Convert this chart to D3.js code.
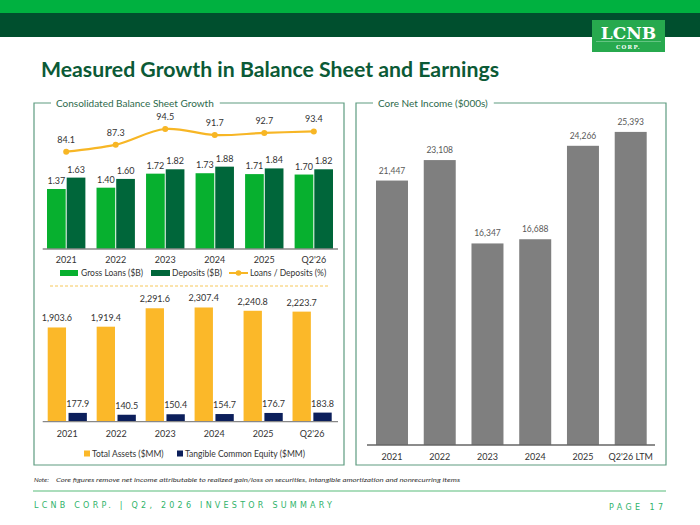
<!DOCTYPE html>
<html><head><meta charset="utf-8">
<script src="https://cdn.jsdelivr.net/npm/d3@7"></script>
<style>
html,body{margin:0;padding:0;background:#fff;}
svg{display:block;font-family:Lato,"Open Sans",sans-serif;}
</style></head>
<body>
<script>
// ---------- data ----------
const years = ["2021","2022","2023","2024","2025","Q2'26"];
const grossLoans = [1.37,1.40,1.72,1.73,1.71,1.70];
const deposits = [1.63,1.60,1.82,1.88,1.84,1.82];
const loanDepRatio = [84.1,87.3,94.5,91.7,92.7,93.4];
const totalAssets = [1903.6,1919.4,2291.6,2307.4,2240.8,2223.7];
const tce = [177.9,140.5,150.4,154.7,176.7,183.8];
const incomeYears = ["2021","2022","2023","2024","2025","Q2'26 LTM"];
const coreNetIncome = [21447,23108,16347,16688,24266,25393];

const W=700,H=525;
const svg=d3.select("body").append("svg").attr("width",W).attr("height",H);

// header bands
svg.append("rect").attr("x",0).attr("y",0).attr("width",W).attr("height",13).attr("fill","#00b140");
svg.append("rect").attr("x",0).attr("y",13).attr("width",W).attr("height",24).attr("fill","#004f2e");
// logo
svg.append("rect").attr("x",592).attr("y",20).attr("width",73).attr("height",32).attr("fill","#27a94e");
svg.append("text").attr("x",628.5).attr("y",39).attr("text-anchor","middle")
  .attr("font-family","'DejaVu Serif','Liberation Serif',serif").attr("font-weight","bold")
  .attr("font-size",17).attr("fill","#fff").text("LCNB");
svg.append("line").attr("x1",596).attr("x2",661).attr("y1",41.5).attr("y2",41.5).attr("stroke","#8fd6a6").attr("stroke-width",0.6);
svg.append("text").attr("x",628.5).attr("y",49).attr("text-anchor","middle")
  .attr("font-family","'DejaVu Serif','Liberation Serif',serif").attr("font-weight","bold")
  .attr("font-size",5.5).attr("letter-spacing",1.2).attr("fill","#fff").text("CORP.");

// title
svg.append("text").attr("x",41).attr("y",77).attr("font-weight","bold").attr("font-size",21)
  .attr("fill","#0b5a36").attr("textLength",458).attr("lengthAdjust","spacingAndGlyphs")
  .text("Measured Growth in Balance Sheet and Earnings");

// panels
function panel(x0,x1,y0,y1,label){
  const t=svg.append("text").attr("x",x0+22).attr("y",y0+3.5).attr("font-size",10)
    .attr("fill","#2d6a4c").text(label);
  const w=t.node().getComputedTextLength();
  const gs=x0+17, ge=x0+22+w+6;
  svg.append("path").attr("fill","none").attr("stroke","#5e9c80").attr("stroke-width",1.2)
    .attr("d",`M${gs},${y0}H${x0}V${y1}H${x1}V${y0}H${ge}`);
}
panel(34,344,103,465,"Consolidated Balance Sheet Growth");
panel(356,666,103,465,"Core Net Income ($000s)");

const labelFill="#333";
// ---------- top-left: loans & deposits ----------
const xTop=d3.scaleBand().domain(years).range([47,333]).paddingInner(0.225).paddingOuter(0);
const xTopIn=d3.scaleBand().domain(["loans","deps"]).range([0,xTop.bandwidth()]).paddingInner(0.05);
const yTop=d3.scaleLinear().domain([0,2]).range([249,161.4]);
const yLine=d3.scaleLinear().domain([80,100]).range([160.6,117.0]);

const gTop=svg.append("g");
const topSeries=[{k:"loans",v:grossLoans,c:"#07b02f"},{k:"deps",v:deposits,c:"#00663a"}];
topSeries.forEach(s=>{
  gTop.selectAll(null).data(years).join("rect")
    .attr("x",d=>xTop(d)+xTopIn(s.k)).attr("width",xTopIn.bandwidth())
    .attr("y",(d,i)=>yTop(s.v[i])).attr("height",(d,i)=>yTop(0)-yTop(s.v[i])).attr("fill",s.c);
  gTop.selectAll(null).data(years).join("text")
    .attr("x",d=>xTop(d)+xTopIn(s.k)+xTopIn.bandwidth()/2).attr("y",(d,i)=>yTop(s.v[i])-5)
    .attr("text-anchor","middle").attr("font-size",9).attr("fill",labelFill)
    .text((d,i)=>s.v[i].toFixed(2));
});
const axTop=gTop.append("g").attr("transform","translate(0,249)")
  .call(d3.axisBottom(xTop).tickSize(0).tickPadding(8));
axTop.select(".domain").attr("d","M42.7,0H338").attr("stroke","#888").attr("stroke-width",1.3);
axTop.selectAll("text").attr("font-size",9).attr("fill",labelFill).attr("font-family","Lato");

const lineGen=d3.line().x((d,i)=>xTop(years[i])+xTop.bandwidth()/2).y(d=>yLine(d)).curve(d3.curveCatmullRom.alpha(0.5));
gTop.append("path").datum(loanDepRatio).attr("d",lineGen).attr("fill","none").attr("stroke","#f7b625").attr("stroke-width",2.2);
gTop.selectAll(null).data(loanDepRatio).join("circle")
  .attr("cx",(d,i)=>xTop(years[i])+xTop.bandwidth()/2).attr("cy",d=>yLine(d)).attr("r",3).attr("fill","#f7b625");
gTop.selectAll(null).data(loanDepRatio).join("text")
  .attr("x",(d,i)=>xTop(years[i])+xTop.bandwidth()/2).attr("y",d=>yLine(d)-9)
  .attr("text-anchor","middle").attr("font-size",9).attr("fill",labelFill).text(d=>d.toFixed(1));

// top legend
const lgTop=svg.append("g").attr("font-size",8.5).attr("fill",labelFill);
lgTop.append("rect").attr("x",60).attr("y",270).attr("width",18).attr("height",6).attr("fill","#07b02f");
lgTop.append("text").attr("x",81).attr("y",276.3).text("Gross Loans ($B)");
lgTop.append("rect").attr("x",151).attr("y",270).attr("width",19).attr("height",6).attr("fill","#00663a");
lgTop.append("text").attr("x",172).attr("y",276.3).text("Deposits ($B)");
lgTop.append("line").attr("x1",229).attr("x2",248).attr("y1",273).attr("y2",273).attr("stroke","#f7b625").attr("stroke-width",2);
lgTop.append("circle").attr("cx",238.5).attr("cy",273).attr("r",2.8).attr("fill","#f7b625");
lgTop.append("text").attr("x",250).attr("y",276.3).text("Loans / Deposits (%)");

// dashed separator
svg.append("line").attr("x1",50).attr("x2",328).attr("y1",286).attr("y2",286)
  .attr("stroke","#f7c85a").attr("stroke-width",1).attr("stroke-dasharray","3,2");

// ---------- bottom-left: assets & TCE ----------
const xBot=d3.scaleBand().domain(years).range([47.7,331.7]).paddingInner(0.2).paddingOuter(0);
const xBotIn=d3.scaleBand().domain(["ta","tce"]).range([0,xBot.bandwidth()]).paddingInner(0.12);
const yBot=d3.scaleLinear().domain([0,2000]).range([421.7,322.7]);
const gBot=svg.append("g");
const botSeries=[{k:"ta",v:totalAssets,c:"#fbb829"},{k:"tce",v:tce,c:"#0c1f5b"}];
const fmt=d3.format(",.1f");
botSeries.forEach(s=>{
  gBot.selectAll(null).data(years).join("rect")
    .attr("x",d=>xBot(d)+xBotIn(s.k)).attr("width",xBotIn.bandwidth())
    .attr("y",(d,i)=>yBot(s.v[i])).attr("height",(d,i)=>yBot(0)-yBot(s.v[i])).attr("fill",s.c);
  gBot.selectAll(null).data(years).join("text")
    .attr("x",d=>xBot(d)+xBotIn(s.k)+xBotIn.bandwidth()/2).attr("y",(d,i)=>yBot(s.v[i])-6)
    .attr("text-anchor","middle").attr("font-size",9).attr("fill",labelFill)
    .text((d,i)=>fmt(s.v[i]));
});
const axBot=gBot.append("g").attr("transform","translate(0,421.7)")
  .call(d3.axisBottom(xBot).tickSize(0).tickPadding(9));
axBot.select(".domain").attr("d","M42.7,0H338").attr("stroke","#888").attr("stroke-width",1.3);
axBot.selectAll("text").attr("font-size",9).attr("fill",labelFill).attr("font-family","Lato");

const lgBot=svg.append("g").attr("font-size",8.5).attr("fill",labelFill);
lgBot.append("rect").attr("x",84).attr("y",450.5).attr("width",6).attr("height",6).attr("fill","#fbb829");
lgBot.append("text").attr("x",92).attr("y",457).text("Total Assets ($MM)");
lgBot.append("rect").attr("x",177).attr("y",450.5).attr("width",6).attr("height",6).attr("fill","#0c1f5b");
lgBot.append("text").attr("x",185).attr("y",457).text("Tangible Common Equity ($MM)");

// ---------- right: core net income ----------
const xR=d3.scaleBand().domain(incomeYears).range([376,646.7]).paddingInner(0.33).paddingOuter(0);
const yR=d3.scaleLinear().domain([0,25000]).range([445,136.75]);
const gR=svg.append("g");
gR.selectAll(null).data(coreNetIncome).join("rect")
  .attr("x",(d,i)=>xR(incomeYears[i])).attr("width",xR.bandwidth())
  .attr("y",d=>yR(d)).attr("height",d=>yR(0)-yR(d)).attr("fill","#7f7f7f");
gR.selectAll(null).data(coreNetIncome).join("text")
  .attr("x",(d,i)=>xR(incomeYears[i])+xR.bandwidth()/2).attr("y",d=>yR(d)-7)
  .attr("text-anchor","middle").attr("font-size",8.5).attr("fill","#595959").text(d=>d3.format(",")(d));
const axR=gR.append("g").attr("transform","translate(0,445)")
  .call(d3.axisBottom(xR).tickSize(0).tickPadding(9));
axR.select(".domain").attr("d","M367,0H655").attr("stroke","#666").attr("stroke-width",1.3);
axR.selectAll("text").attr("font-size",9).attr("fill",labelFill).attr("font-family","Lato");

// ---------- footer ----------
svg.append("text").attr("x",34).attr("y",481.5).attr("font-size",6.5).attr("font-style","italic").attr("fill","#333").text("Note:");
svg.append("text").attr("x",56).attr("y",481.5).attr("font-size",6.5).attr("font-style","italic").attr("fill","#333")
  .attr("textLength",404).attr("lengthAdjust","spacingAndGlyphs")
  .text("Core figures remove net income attributable to realized gain/loss on securities, intangible amortization and nonrecurring items");
svg.append("line").attr("x1",33).attr("x2",666).attr("y1",491).attr("y2",491).attr("stroke","#8fd2a6").attr("stroke-width",1.5);
svg.append("text").attr("x",34).attr("y",507.5).attr("font-size",8).attr("fill","#2fb36a")
  .attr("font-family","'DejaVu Sans',sans-serif")
  .attr("textLength",298).attr("lengthAdjust","spacing")
  .text("LCNB CORP. | Q2, 2026 INVESTOR SUMMARY");
svg.append("text").attr("x",609).attr("y",509.5).attr("font-size",8).attr("fill","#2fb36a")
  .attr("font-family","'DejaVu Sans',sans-serif")
  .attr("textLength",54).attr("lengthAdjust","spacing")
  .text("PAGE 17");
</script>
</body></html>
